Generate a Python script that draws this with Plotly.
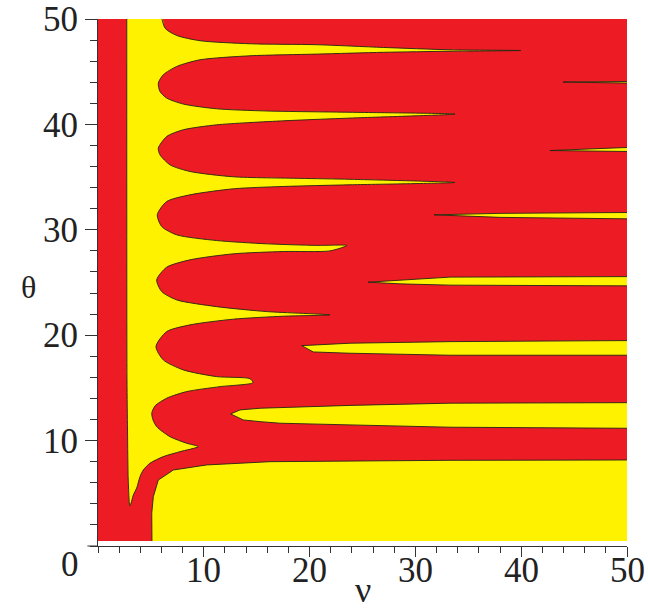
import plotly.graph_objects as go

# ---- data (nu, theta) ----
frame_nu = [0, 50, 50, 0]
frame_theta = [0.47, 0.47, 50, 50]

# yellow region connected to the left (with tongues); first/last points lie above the frame
A_nu = [2.72, 5.79, 6.33, 7.44, 9.64, 14.37, 20.67, 26.97, 33.27, 39.95,
        33.27, 26.97, 20.67, 14.37, 9.64, 7.44, 6.17, 5.70,
        5.86, 6.49, 8.06, 11.22, 15.94, 23.82, 33.74,
        23.82, 17.51, 11.22, 8.06, 6.49, 5.70,
        5.86, 6.81, 8.70, 12.79, 19.09, 23.82, 33.74,
        23.82, 17.51, 12.79, 8.70, 6.49, 5.60,
        6.02, 7.44, 11.22, 15.94, 20.67, 23.51,
        21.93, 17.51, 12.79, 8.70, 6.49, 5.55,
        6.02, 7.44, 11.22, 15.94, 21.93,
        17.51, 12.79, 8.70, 6.49, 5.48,
        6.17, 8.06, 11.22, 14.37, 14.65,
        11.53, 8.38, 6.49, 5.39, 5.08,
        5.20, 5.55, 6.81, 8.38, 9.48,
        7.75, 6.17, 4.91, 4.28, 3.97, 3.66, 3.34, 3.02,
        2.86, 2.79, 2.74, 2.72]
A_theta = [51.5, 51.5, 49.14, 48.44, 47.94, 47.65, 47.56, 47.30, 47.08, 47.01,
           46.94, 46.84, 46.67, 46.51, 46.13, 45.50, 44.71, 43.92,
           43.12, 42.50, 41.93, 41.48, 41.27, 41.15, 40.98,
           40.60, 40.34, 39.96, 39.49, 38.85, 37.75,
           37.11, 36.16, 35.53, 35.03, 34.88, 34.79, 34.49,
           34.27, 34.11, 33.89, 33.32, 32.68, 31.42,
           30.31, 29.52, 28.98, 28.67, 28.52, 28.51,
           28.00, 27.94, 27.72, 27.15, 26.45, 25.25,
           24.14, 23.35, 22.71, 22.24, 21.93,
           21.80, 21.52, 20.98, 20.34, 18.92,
           17.66, 16.71, 16.07, 15.87, 15.50,
           15.12, 14.65, 14.02, 13.29, 12.60,
           11.96, 11.32, 10.37, 9.75, 9.43,
           8.95, 8.48, 7.85, 7.21, 6.58, 5.51, 4.84, 3.80,
           6.26, 11.00, 15.87, 51.5]

# large yellow region at the bottom right
C_nu = [5.10, 5.08, 5.23, 5.70, 7.12, 10.27, 16.26, 23.82, 33.27, 50, 50]
C_theta = [0.47, 3.10, 4.68, 6.26, 7.21, 7.69, 8.00, 8.07, 8.13, 8.16, 0.47]

# yellow stripes entering from the right edge
B1_nu = [12.54, 13.42, 15.31, 17.20, 23.82, 33.27, 50, 50, 33.27, 23.82, 17.20, 15.31, 13.73]
B1_theta = [12.53, 12.91, 13.07, 13.13, 13.34, 13.55, 13.60, 11.17, 11.27, 11.49, 11.65, 11.80, 11.96]
B2_nu = [19.25, 23.82, 33.27, 50, 50, 33.27, 23.82, 20.35]
B2_theta = [19.01, 19.24, 19.39, 19.49, 18.10, 18.10, 18.29, 18.41]
B3_nu = [25.52, 28.54, 33.27, 50, 50, 33.27, 28.54]
B3_theta = [25.03, 25.20, 25.51, 25.56, 24.68, 24.75, 24.87]
B4_nu = [31.76, 38.00, 50, 50, 38.00]
B4_theta = [31.42, 31.56, 31.64, 31.04, 31.18]
B5_nu = [42.72, 46.50, 50, 50, 46.50]
B5_theta = [37.52, 37.68, 37.81, 37.43, 37.47]
B6_nu = [43.95, 50, 50]
B6_theta = [44.02, 44.07, 43.92]

x_ticks = [10, 20, 30, 40, 50]
y_ticks = [10, 20, 30, 40, 50]
x_label = "ν"
y_label = "θ"

RED = "#ED1C24"
YEL = "#FFF200"
EDGE = "rgba(35,35,20,0.9)"
FONT = "Liberation Serif, Times New Roman, serif"

fig = go.Figure()
fig.add_trace(go.Scatter(x=frame_nu + [frame_nu[0]], y=frame_theta + [frame_theta[0]],
                         fill="toself", fillcolor=RED, mode="lines",
                         line=dict(width=0), hoverinfo="skip", showlegend=False))

regions = [((A_nu, A_theta), True), ((C_nu, C_theta), False), ((B1_nu, B1_theta), False),
           ((B2_nu, B2_theta), False), ((B3_nu, B3_theta), False), ((B4_nu, B4_theta), False),
           ((B5_nu, B5_theta), False), ((B6_nu, B6_theta), False)]


def on_frame(x, y):
    return x <= 0.01 or x >= 49.99 or y >= 49.99 or y <= 0.5


for (xs, ys), smooth in regions:
    shp = dict(shape="spline", smoothing=0.7) if smooth else dict(shape="linear")
    fig.add_trace(go.Scatter(x=xs + [xs[0]], y=ys + [ys[0]], fill="toself", fillcolor=YEL,
                             mode="lines", line=dict(width=0.01, color=YEL, **shp),
                             hoverinfo="skip", showlegend=False))
    cx = xs + [xs[0]]
    cy = ys + [ys[0]]
    # boundary curves (skip segments lying on the frame)
    segs = []
    cur_x, cur_y = [], []
    for i in range(len(cx) - 1):
        if on_frame(cx[i], cy[i]) and on_frame(cx[i + 1], cy[i + 1]):
            if cur_x:
                segs.append((cur_x, cur_y))
            cur_x, cur_y = [], []
            continue
        if not cur_x:
            cur_x, cur_y = [cx[i]], [cy[i]]
        cur_x.append(cx[i + 1])
        cur_y.append(cy[i + 1])
    if cur_x:
        segs.append((cur_x, cur_y))
    for sx, sy in segs:
        fig.add_trace(go.Scatter(x=sx, y=sy, mode="lines",
                                 line=dict(width=1, color=EDGE, **shp),
                                 hoverinfo="skip", showlegend=False))

axis_common = dict(showgrid=False, zeroline=False, showline=True, linecolor="#333",
                   linewidth=1, ticks="outside", tickcolor="#333", tickwidth=1,
                   automargin=False,
                   tickfont=dict(family=FONT, size=35, color="#222"))

fig.update_xaxes(range=[0, 50], tickvals=x_ticks, showticklabels=False,
                 ticklen=10,
                 minor=dict(dtick=2, tick0=0, ticklen=6, ticks="outside",
                            tickcolor="#333"), **axis_common)
fig.update_yaxes(range=[0, 50], tickvals=y_ticks, ticktext=[str(v) for v in y_ticks],
                 ticklen=12, minor=dict(dtick=2, tick0=0, ticklen=7, ticks="outside",
                                        tickcolor="#333"), **axis_common)

# x tick labels placed closer to the axis, as in the reference
for v in x_ticks:
    fig.add_annotation(text=str(v), x=v, xref="x", y=-0.047, yref="paper",
                       showarrow=False, font=dict(family=FONT, size=35, color="#222"),
                       xanchor="center", yanchor="middle")

fig.add_shape(type="line", xref="paper", yref="paper", x0=-0.02, x1=0, y0=0, y1=0,
              line=dict(color="#333", width=1))

fig.add_annotation(text="0", xref="paper", yref="paper", x=-0.053, y=-0.036,
                   showarrow=False, font=dict(family=FONT, size=35, color="#222"),
                   xanchor="center", yanchor="middle")
fig.add_annotation(text=x_label, xref="paper", yref="paper", x=0.501, y=-0.1235,
                   showarrow=False, font=dict(family=FONT, size=36, color="#222"),
                   xanchor="center", yanchor="bottom", borderpad=0)
fig.add_annotation(text=y_label, xref="paper", yref="paper", x=-0.132, y=0.491,
                   showarrow=False, font=dict(family=FONT, size=32, color="#222"),
                   xanchor="center", yanchor="middle")

fig.update_layout(width=648, height=610, margin=dict(l=98, r=21, t=19, b=64),
                  plot_bgcolor="white", paper_bgcolor="white")

fig.write_html("out.html")
